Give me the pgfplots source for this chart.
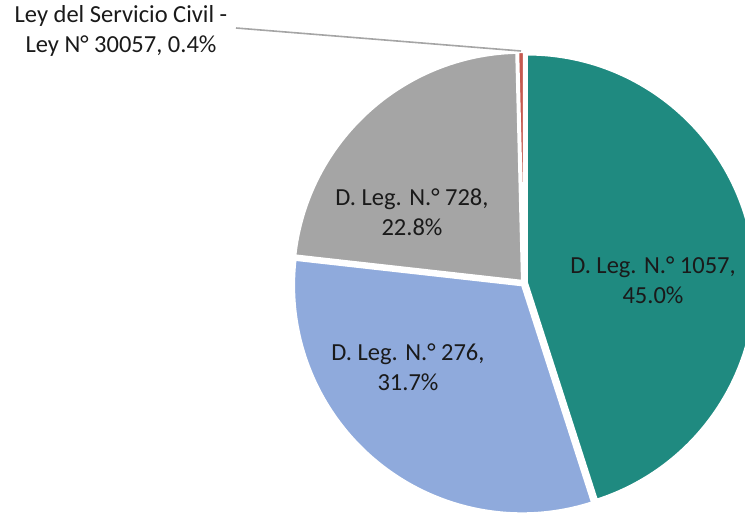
\documentclass[border=0pt]{standalone}
\usepackage{pgfplots}
\pgfplotsset{compat=1.18}
\usepackage{fontspec}
\setmainfont{Carlito}

\definecolor{cteal}{HTML}{1F8A80}
\definecolor{cblue}{HTML}{8FAADC}
\definecolor{cgray}{HTML}{A5A5A5}
\definecolor{cred}{HTML}{C55A4F}
\definecolor{ctext}{HTML}{1A1A1A}

% shares in percent
\def\vA{45.0} % D. Leg. N.° 1057
\def\vB{31.7} % D. Leg. N.° 276
\def\vC{22.8} % D. Leg. N.° 728
\def\vD{0.4}  % Ley N° 30057

\begin{document}
\begin{tikzpicture}
    \pgfmathsetmacro\tot{\vA+\vB+\vC+\vD}
    \pgfmathsetmacro\aA{90}
    \pgfmathsetmacro\aB{\aA-360*\vA/\tot}
    \pgfmathsetmacro\aC{\aB-360*\vB/\tot}
    \pgfmathsetmacro\aD{\aC-360*\vC/\tot}
    \pgfmathsetmacro\aE{\aD-360*\vD/\tot}
    \def\rad{228}
    \def\expl{3}

    \begin{axis}[
        x = 1pt, y = 1pt,
        xmin = -524, xmax = 221,
        ymin = -231, ymax = 283,
        hide axis,
        disabledatascaling,
        clip = true]

        \fill[cteal, draw=white, line width=2pt]
            (axis cs:0,0) ++({(\aA+\aB)/2}:\expl) -- ++(\aA:\rad)
            arc[start angle=\aA, end angle=\aB, radius=\rad] -- cycle;
        \fill[cblue, draw=white, line width=2pt]
            (axis cs:0,0) ++({(\aB+\aC)/2}:\expl) -- ++(\aB:\rad)
            arc[start angle=\aB, end angle=\aC, radius=\rad] -- cycle;
        \fill[cgray, draw=white, line width=2pt]
            (axis cs:0,0) ++({(\aC+\aD)/2}:\expl) -- ++(\aC:\rad)
            arc[start angle=\aC, end angle=\aD, radius=\rad] -- cycle;
        \fill[cred, draw=white, line width=2pt]
            (axis cs:0,0) ++({(\aD+\aE)/2}:\expl) -- ++(\aD:\rad)
            arc[start angle=\aD, end angle=\aE, radius=\rad] -- cycle;

        \draw[cgray, line width=1.6pt] (axis cs:-288,255) -- (axis cs:-3,232);

        \begin{scope}[every node/.style={align=center, text=ctext,
                font=\fontsize{24.5}{30}\selectfont}]
            \node at (axis cs:129,3)     {D. Leg. N.° 1057,\\45.0\%};
            \node at (axis cs:-116,-84)  {D. Leg. N.° 276,\\31.7\%};
            \node at (axis cs:-112,71)   {D. Leg. N.° 728,\\22.8\%};
            \node at (axis cs:-403,252)  {Ley del Servicio Civil -\\Ley N° 30057, 0.4\%};
        \end{scope}
    \end{axis}
    \pgfresetboundingbox
    \useasboundingbox (current axis.south west) rectangle (current axis.north east);
\end{tikzpicture}
\end{document}
